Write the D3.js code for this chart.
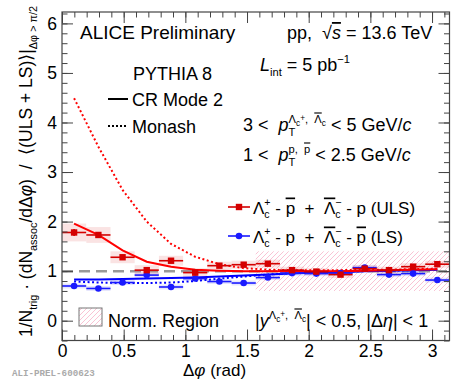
<!DOCTYPE html>
<html>
<head>
<meta charset="utf-8">
<script src="https://cdn.jsdelivr.net/npm/d3@7"></script>
<style>
  html, body { margin: 0; padding: 0; background: #fff; }
  svg { display: block; font-family: 'Liberation Sans', Arial, sans-serif; }
  text { white-space: pre; }
</style>
</head>
<body>
<div id="chart"></div>
<script>
// bin centres of 16 bins over [0, pi]
const binCenters = [0.098, 0.295, 0.491, 0.687, 0.884, 1.080, 1.276, 1.473,
                    1.669, 1.865, 2.062, 2.258, 2.454, 2.651, 2.847, 3.043]
const binHalf = 0.098

// ULS: Lc+ - pbar + Lcbar- - p
const ulsVal  = [1.78, 1.73, 1.28, 1.02, 1.21, 0.97, 1.11, 1.13, 1.15, 1.02, 0.99, 0.93, 1.05, 1.02, 1.09, 1.14]
const ulsStat = [0.07, 0.06, 0.05, 0.05, 0.05, 0.04, 0.04, 0.04, 0.04, 0.04, 0.04, 0.04, 0.04, 0.04, 0.04, 0.05]
const ulsSyst = [0.18, 0.16, 0.12, 0.10, 0.10, 0.09, 0.08, 0.08, 0.08, 0.07, 0.07, 0.07, 0.07, 0.07, 0.07, 0.07]

// LS: Lc+ - p + Lcbar- - pbar
const lsVal  = [0.70, 0.65, 0.77, 0.92, 0.68, 0.85, 0.79, 0.76, 0.87, 0.96, 0.95, 0.96, 1.07, 0.93, 0.95, 0.82]
const lsStat = [0.04, 0.04, 0.04, 0.04, 0.04, 0.03, 0.03, 0.03, 0.03, 0.03, 0.03, 0.03, 0.03, 0.03, 0.03, 0.04]
const lsSyst = [0.05, 0.05, 0.05, 0.05, 0.05, 0.05, 0.05, 0.05, 0.05, 0.05, 0.05, 0.05, 0.05, 0.05, 0.05, 0.05]

// PYTHIA 8 predictions at the bin centres
const crUls     = [1.96, 1.73, 1.42, 1.19, 1.09, 1.03, 1.01, 1.00, 1.00, 1.00, 1.00, 1.00, 1.01, 1.02, 1.03, 1.04]
const crLs      = [0.83, 0.83, 0.84, 0.85, 0.86, 0.87, 0.89, 0.91, 0.93, 0.95, 0.97, 0.98, 1.00, 1.01, 1.02, 1.03]
const monashUls = [4.49, 3.51, 2.64, 2.00, 1.55, 1.29, 1.14, 1.06, 1.03, 1.02, 1.02, 1.02, 1.03, 1.03, 1.04, 1.05]
const monashLs  = [0.79, 0.77, 0.76, 0.76, 0.77, 0.80, 0.85, 0.89, 0.93, 0.96, 0.97, 0.99, 1.00, 1.01, 1.02, 1.03]

const xMajor = [0, 0.5, 1, 1.5, 2, 2.5, 3]
const yMajor = [0, 1, 2, 3, 4, 5, 6]
const normRegion = { x0: Math.PI / 2, x1: Math.PI, y0: 0.6, y1: 1.4 }

const W = 452, H = 379
const svg = d3.select('#chart').append('svg').attr('width', W).attr('height', H)

const x = d3.scaleLinear().domain([0, Math.PI]).range([62, 449.5])
const y = d3.scaleLinear().domain([-0.4, 6.23]).range([340.5, 12])

const defs = svg.append('defs')
const pat = defs.append('pattern').attr('id', 'hatch')
  .attr('patternUnits', 'userSpaceOnUse').attr('width', 5).attr('height', 5)
pat.append('path').attr('d', 'M-1,6 L6,-1 M-1,1 L1,-1 M4,6 L6,4')
  .attr('stroke', '#f9c3d4').attr('stroke-width', 1)

const RED = '#ff0000', RED_M = '#d40000'
const BLUE = '#0000ff', BLUE_M = '#1a1aff'

// normalisation region
svg.append('rect')
  .attr('x', x(normRegion.x0)).attr('y', y(normRegion.y1))
  .attr('width', x(normRegion.x1) - x(normRegion.x0))
  .attr('height', y(normRegion.y0) - y(normRegion.y1))
  .attr('fill', 'url(#hatch)')

// reference line at 1
svg.append('line')
  .attr('x1', x(0)).attr('x2', x(Math.PI)).attr('y1', y(1)).attr('y2', y(1))
  .attr('stroke', '#999').attr('stroke-width', 2.5).attr('stroke-dasharray', '11,6')

// systematic boxes
function systBoxes(vals, syst, fill) {
  svg.append('g').selectAll('rect').data(vals).join('rect')
    .attr('x', (d, i) => x(binCenters[i] - binHalf))
    .attr('width', x(2 * binHalf) - x(0))
    .attr('y', (d, i) => y(d + syst[i]))
    .attr('height', (d, i) => y(d - syst[i]) - y(d + syst[i]))
    .attr('fill', fill)
}
systBoxes(lsVal, lsSyst, 'rgba(110,110,240,0.18)')
systBoxes(ulsVal, ulsSyst, 'rgba(225,100,100,0.18)')

// model curves
const line = d3.line().x((d, i) => x(binCenters[i])).y(d => y(d))
function model(vals, color, dash) {
  svg.append('path').datum(vals).attr('d', line)
    .attr('fill', 'none').attr('stroke', color).attr('stroke-width', 2)
    .attr('stroke-dasharray', dash)
}
model(monashLs, BLUE, '2,2.5')
model(crLs, BLUE, null)
model(monashUls, RED, '2,2.5')
model(crUls, RED, null)

// data points
function points(vals, stat, color, shape) {
  const g = svg.append('g').attr('stroke', color).attr('fill', color)
  g.selectAll('.h').data(vals).join('line')
    .attr('x1', (d, i) => x(binCenters[i] - binHalf))
    .attr('x2', (d, i) => x(binCenters[i] + binHalf))
    .attr('y1', d => y(d)).attr('y2', d => y(d)).attr('stroke-width', 1.6)
  g.selectAll('.v').data(vals).join('line')
    .attr('x1', (d, i) => x(binCenters[i])).attr('x2', (d, i) => x(binCenters[i]))
    .attr('y1', (d, i) => y(d - stat[i])).attr('y2', (d, i) => y(d + stat[i]))
    .attr('stroke-width', 1.6)
  if (shape === 'square') {
    g.selectAll('.m').data(vals).join('rect')
      .attr('x', (d, i) => x(binCenters[i]) - 3.2).attr('y', d => y(d) - 3.2)
      .attr('width', 6.4).attr('height', 6.4).attr('stroke', 'none')
  } else {
    g.selectAll('.m').data(vals).join('circle')
      .attr('cx', (d, i) => x(binCenters[i])).attr('cy', d => y(d))
      .attr('r', 3.3).attr('stroke', 'none')
  }
}
points(lsVal, lsStat, BLUE_M, 'circle')
points(ulsVal, ulsStat, RED_M, 'square')

// frame + ticks
const AX = '#444'
function styleAxis(g) {
  g.select('.domain').remove()
  g.selectAll('line').attr('stroke', AX)
  g.selectAll('text').attr('fill', '#000').attr('font-size', 17.5)
    .attr('font-family', "'Liberation Sans', Arial, sans-serif")
}
const xMinor = d3.range(0, 3.15, 0.1)
const yMinor = d3.range(-0.4, 6.25, 0.2)
const axes = [
  [d3.axisBottom(x), 'translate(0,340.5)', xMajor, xMinor, 4],
  [d3.axisTop(x), 'translate(0,12)', xMajor, xMinor, 0],
  [d3.axisLeft(y), 'translate(62,0)', yMajor, yMinor, 5],
  [d3.axisRight(y), 'translate(449.5,0)', yMajor, yMinor, 0],
]
axes.forEach(([ax, tr, major, minor, pad]) => {
  svg.append('g').attr('transform', tr)
    .call(ax.tickValues(minor).tickSize(-5.5).tickFormat(''))
    .call(styleAxis)
  svg.append('g').attr('transform', tr)
    .call(ax.tickValues(major).tickSize(-11).tickPadding(pad)
      .tickFormat(pad ? d3.format('') : ''))
    .call(styleAxis)
})
svg.append('rect').attr('x', 62).attr('y', 12).attr('width', 449.5 - 62).attr('height', 340.5 - 12)
  .attr('fill', 'none').attr('stroke', AX).attr('stroke-width', 1.2)

// rich text helper: segments [text, flags]
// flags: sub / sup, lo / hi (index inside a superscript), back (stack on previous), i, ol
function rich(parent, px, py, segs, fs, anchor) {
  const t = parent.append('text').attr('x', px).attr('y', py).attr('font-size', fs)
    .attr('fill', '#000')
  if (anchor) t.attr('text-anchor', anchor)
  let cur = 0, lastW = 0
  segs.forEach(([txt, flags = '']) => {
    const f = flags.split(' ')
    let target = f.includes('sub') ? fs * 0.28 : f.includes('sup') ? -fs * 0.42 : 0
    let size = (f.includes('sub') || f.includes('sup')) ? fs * 0.62 : fs
    if (f.includes('lo')) { target += fs * 0.14; size = fs * 0.46 }
    if (f.includes('hi')) { target -= fs * 0.16; size = fs * 0.46 }
    const sp = t.append('tspan').text(txt)
    if (target !== cur) sp.attr('dy', target - cur)
    cur = target
    if (size !== fs) sp.attr('font-size', size)
    if (f.includes('i')) sp.attr('font-style', 'italic')
    if (f.includes('ol')) sp.attr('text-decoration', 'overline')
    if (f.includes('back')) sp.attr('dx', -lastW)
    lastW = sp.node().getComputedTextLength()
  })
  return t
}

rich(svg, 80, 39, [['ALICE Preliminary']], 19)
rich(svg, 287, 39, [['pp,  √'], ['s', 'i ol'], [' = 13.6 TeV']], 18)
rich(svg, 260, 71, [['L', 'i'], ['int', 'sub'], [' = 5 pb'], ['−1', 'sup']], 18)
rich(svg, 133, 80, [['PYTHIA 8']], 18)
svg.append('line').attr('x1', 108).attr('x2', 128).attr('y1', 99).attr('y2', 99)
  .attr('stroke', '#000').attr('stroke-width', 2)
rich(svg, 132, 106, [['CR Mode 2']], 18)
svg.append('line').attr('x1', 108).attr('x2', 128).attr('y1', 126).attr('y2', 126)
  .attr('stroke', '#000').attr('stroke-width', 2).attr('stroke-dasharray', '2,2')
rich(svg, 132, 133, [['Monash']], 18)

rich(svg, 243, 131, [['3 <  '], ['p', 'i'], ['T', 'sub'], ['Λ', 'sup back'], ['c', 'sup lo'], ['+', 'sup hi'],
  [',  ', 'sup'], ['Λ', 'sup ol'], ['c', 'sup lo'], [' < 5 GeV/'], ['c', 'i']], 18)
rich(svg, 243, 161, [['1 <  '], ['p', 'i'], ['T', 'sub'], ['p,  ', 'sup back'], ['p', 'sup ol'],
  [' < 2.5 GeV/'], ['c', 'i']], 18)

// data legend
function legendEntry(ly, color, shape, segs) {
  svg.append('line').attr('x1', 228).attr('x2', 250).attr('y1', ly).attr('y2', ly)
    .attr('stroke', color).attr('stroke-width', 1.6)
  if (shape === 'square') {
    svg.append('rect').attr('x', 235.8).attr('y', ly - 3.2).attr('width', 6.4).attr('height', 6.4)
      .attr('fill', color)
  } else {
    svg.append('circle').attr('cx', 239).attr('cy', ly).attr('r', 3.3).attr('fill', color)
  }
  rich(svg, 253, ly + 6.5, segs, 17)
}
legendEntry(207, RED_M, 'square', [['Λ'], ['c', 'sub'], ['+', 'sup back'], [' - '], ['p', 'ol'],
  ['  +  '], ['Λ', 'ol'], ['c', 'sub'], ['−', 'sup back'], [' - p (ULS)']])
legendEntry(236, BLUE_M, 'circle', [['Λ'], ['c', 'sub'], ['+', 'sup back'], [' - p  +  '],
  ['Λ', 'ol'], ['c', 'sub'], ['−', 'sup back'], [' - '], ['p', 'ol'], [' (LS)']])

// norm region legend
svg.append('rect').attr('x', 79).attr('y', 308).attr('width', 23).attr('height', 18)
  .attr('fill', 'url(#hatch)').attr('stroke', '#777').attr('stroke-width', 1)
rich(svg, 108, 327, [['Norm. Region']], 18)
rich(svg, 255, 327, [['|'], ['y', 'i'], ['Λ', 'sup'], ['c', 'sup lo'], ['+', 'sup hi'], [',  ', 'sup'],
  ['Λ', 'sup ol'], ['c', 'sup lo'], ['| < 0.5, |Δ'], ['η', 'i'], ['| < 1']], 18)

// axis titles
rich(svg, 183, 375.5, [['Δ'], ['φ', 'i'], [' (rad)']], 17)
const yt = svg.append('g').attr('transform', 'translate(32,337) rotate(-90)')
rich(yt, 0, 0, [['1/N'], ['trig', 'sub'], [' · (dN'], ['assoc', 'sub'], ['/dΔ'], ['φ', 'i'],
  [')  /  ⟨(ULS + LS)⟩|'], ['Δφ > π/2', 'sub']], 17.5)

svg.append('text').attr('x', 12).attr('y', 376).attr('font-size', 9.2)
  .attr('font-family', "'Liberation Mono', monospace").attr('font-weight', 'bold')
  .attr('fill', '#aaa').text('ALI-PREL-600623')
</script>
</body>
</html>
